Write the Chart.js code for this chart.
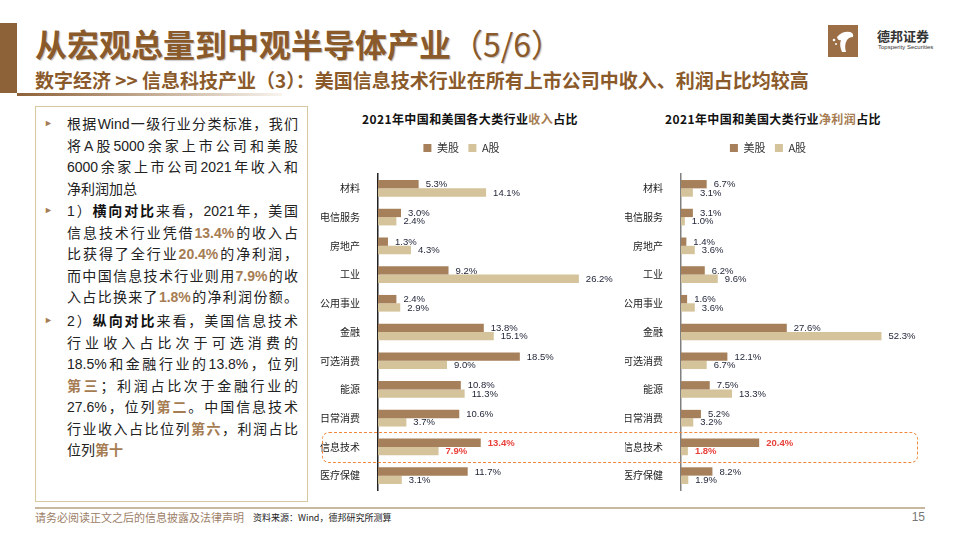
<!DOCTYPE html>
<html>
<head>
<meta charset="utf-8">
<script src="https://cdn.jsdelivr.net/npm/chart.js@4.4.0/dist/chart.umd.min.js"></script>
<style>
  body { margin: 0; width: 960px; height: 540px; background: #fff; position: relative; overflow: hidden;
         font-family: "Liberation Sans", "Noto Sans CJK SC", sans-serif; }
  .abs { position: absolute; }
  #accent { left: 0; top: 23px; width: 17px; height: 70px; background: #8E6239; }
  #title { left: 35px; top: 21px; font-size: 32px; font-weight: bold; color: #8B5A2B; line-height: 44px;
           font-family: "Noto Sans CJK SC", sans-serif; text-shadow: 1px 1px 1px rgba(0,0,0,0.25); white-space: nowrap; }
  #title span { font-weight: normal; }
  #subtitle { left: 35px; top: 66px; font-size: 19px; font-weight: bold; color: #8B5A2B; line-height: 27px;
              font-family: "Noto Sans CJK SC", sans-serif; white-space: nowrap; }
  #rule { left: 17px; top: 93px; width: 265px; height: 3px; background: linear-gradient(to right, #8E6239, rgba(220,200,170,0.2)); }
  #logoBox { left: 828px; top: 25px; width: 30px; height: 32px; }
  #logoCn { left: 877px; top: 26px; font-size: 13px; font-weight: bold; color: #333; font-family: "Noto Sans CJK SC", sans-serif; }
  #logoEn { left: 878px; top: 44px; font-size: 6px; color: #333; font-family: "Liberation Sans", sans-serif; white-space: nowrap; }
  #box { left: 35px; top: 106px; width: 271px; height: 394px; border: 1.5px solid #D8C8A2; }
  .para { position: absolute; left: 67px; width: 231px; font-size: 14px; line-height: 21.5px; color: #222;
          font-family: "Liberation Sans", "Noto Sans CJK SC", sans-serif; }
  .para div { text-align: justify; text-align-last: justify; white-space: nowrap; }
  .para div.last { text-align-last: left; }
  .bullet { position: absolute; left: 44px; font-size: 9px; color: #A67C52; }
  .hl { color: #A67C52; font-weight: bold; }
  .bk { font-weight: bold; color: #111; }
  .ctitle { font-size: 12px; font-weight: bold; color: #111; white-space: nowrap; transform: translateX(-50%);
            font-family: "Noto Sans CJK SC", sans-serif; letter-spacing: 0.4px; }
  .ctitle span { color: #A67C52; }
  canvas { position: absolute; }
  #hlBox { left: 322px; top: 432px; width: 594px; height: 29px; border: 1.5px dashed #F0883E; border-radius: 7px; }
  #footLine { left: 35px; top: 507px; width: 890px; height: 2px; background: #C8B8A0; }
  #footL { left: 35px; top: 509px; font-size: 11px; color: #9C8068; line-height: 16px; font-family: "Noto Sans CJK SC", sans-serif; }
  #footSrc { left: 253px; top: 510px; font-size: 9px; color: #222; line-height: 16px; font-family: "Noto Sans CJK SC", sans-serif; }
  #page { left: 905px; top: 509px; width: 20px; text-align: right; font-size: 12px; color: #777; line-height: 16px; }
</style>
</head>
<body>
<div id="accent" class="abs"></div>
<div id="title" class="abs">从宏观总量到中观半导体产业<span>（5/6）</span></div>
<div id="subtitle" class="abs">数字经济 &gt;&gt; 信息科技产业（3）：美国信息技术行业在所有上市公司中收入、利润占比均较高</div>
<div id="rule" class="abs"></div>

<svg id="logoBox" class="abs" viewBox="0 0 30 32">
  <rect x="0" y="0" width="30" height="32" fill="#9B6E45"/>
  <path d="M9 12 Q14 6 22 7 Q26 8 25 12 Q21 12 19 15 Q16 20 18 27 L14 27 Q11 20 13 15 Q10 16 9 12 Z" fill="#fff"/>
  <circle cx="6" cy="15" r="1.3" fill="#fff"/>
  <circle cx="8" cy="19" r="1" fill="#fff"/>
</svg>
<div id="logoCn" class="abs">德邦证券</div>
<div id="logoEn" class="abs">Topsperity Securities</div>

<div id="box" class="abs"></div>
<div class="bullet" style="top:118px">&#9658;</div>
<div class="para" style="top:114px">
  <div>根据Wind一级行业分类标准，我们</div>
  <div>将A股5000余家上市公司和美股</div>
  <div>6000余家上市公司2021年收入和</div>
  <div class="last">净利润加总</div>
</div>
<div class="bullet" style="top:205px">&#9658;</div>
<div class="para" style="top:201px">
  <div>1）<span class="bk">横向对比</span>来看，2021年，美国</div>
  <div>信息技术行业凭借<span class="hl">13.4%</span>的收入占</div>
  <div>比获得了全行业<span class="hl">20.4%</span>的净利润，</div>
  <div>而中国信息技术行业则用<span class="hl">7.9%</span>的收</div>
  <div>入占比换来了<span class="hl">1.8%</span>的净利润份额。</div>
</div>
<div class="bullet" style="top:315px">&#9658;</div>
<div class="para" style="top:311px">
  <div>2）<span class="bk">纵向对比</span>来看，美国信息技术</div>
  <div>行业收入占比次于可选消费的</div>
  <div>18.5%和金融行业的13.8%，位列</div>
  <div><span class="hl">第三</span>；利润占比次于金融行业的</div>
  <div>27.6%，位列<span class="hl">第二</span>。中国信息技术</div>
  <div>行业收入占比位列<span class="hl">第六</span>，利润占比</div>
  <div class="last">位列<span class="hl">第十</span></div>
</div>

<div class="abs ctitle" style="left:470px; top:110px">2021年中国和美国各大类行业<span>收入</span>占比</div>
<div class="abs ctitle" style="left:773px; top:110px">2021年中国和美国大类行业<span>净利润</span>占比</div>

<canvas id="revenueChart" width="324" height="373" style="left:315px; top:133px"></canvas>
<canvas id="profitChart" width="320" height="373" style="left:625px; top:133px"></canvas>
<div id="hlBox" class="abs"></div>

<div id="footLine" class="abs"></div>
<div id="footL" class="abs">请务必阅读正文之后的信息披露及法律声明</div>
<div id="footSrc" class="abs">资料来源：Wind，德邦研究所测算</div>
<div id="page" class="abs">15</div>

<script>
// data (%)
const categories = ['材料', '电信服务', '房地产', '工业', '公用事业', '金融', '可选消费', '能源', '日常消费', '信息技术', '医疗保健'];
const seriesNames = ['美股', 'A股'];
const revenueUS = [5.3, 3.0, 1.3, 9.2, 2.4, 13.8, 18.5, 10.8, 10.6, 13.4, 11.7];
const revenueCN = [14.1, 2.4, 4.3, 26.2, 2.9, 15.1, 9.0, 11.3, 3.7, 7.9, 3.1];
const profitUS = [6.7, 3.1, 1.4, 6.2, 1.6, 27.6, 12.1, 7.5, 5.2, 20.4, 8.2];
const profitCN = [3.1, 1.0, 3.6, 9.6, 3.6, 52.3, 6.7, 13.3, 3.2, 1.8, 1.9];
const highlight = '信息技术';

Chart.defaults.font.family = '"Noto Sans CJK SC", sans-serif';

// value labels at the end of each bar
const barLabels = {
    id: 'barLabels',
    afterDatasetsDraw: function(chart) {
        var ctx = chart.ctx;
        ctx.save();
        ctx.textAlign = 'left';
        ctx.textBaseline = 'middle';
        chart.data.datasets.forEach(function(ds, i) {
            chart.getDatasetMeta(i).data.forEach(function(bar, j) {
                var hot = chart.data.labels[j] === highlight;
                ctx.fillStyle = hot ? '#E8413A' : '#1E2235';
                ctx.font = (hot ? 'bold ' : '') + '9.5px "Liberation Sans", Arial, sans-serif';
                ctx.fillText(ds.data[j].toFixed(1) + '%', bar.x + 7, bar.y + 0.5);
            });
        });
        ctx.restore();
    }
};

// a bit more room between legend and bars
const legendGap = {
    id: 'legendGap',
    beforeLayout: function(chart) {
        var lg = chart.legend;
        if (lg && !lg._gapPatched) {
            var fit = lg.fit;
            lg.fit = function() {
                fit.call(this);
                this.height += 10.5;
            };
            lg._gapPatched = true;
        }
    }
};

function makeChart(id, usData, cnData, xMax, axisWidth, axisColor, padRight) {
    var el = document.getElementById(id);
    return new Chart(el, {
        type: 'bar',
        data: {
            labels: categories,
            datasets: [{
                label: seriesNames[0],
                backgroundColor: '#A6805A',
                data: usData
            }, {
                label: seriesNames[1],
                backgroundColor: '#D5C39B',
                data: cnData
            }]
        },
        options: {
            indexAxis: 'y',
            responsive: false,
            animation: false,
            devicePixelRatio: 1,
            layout: { autoPadding: false, padding: { left: 0, right: padRight, top: 0, bottom: 10 } },
            datasets: { bar: { categoryPercentage: 0.58, barPercentage: 1.0 } },
            plugins: {
                legend: {
                    display: true,
                    labels: {
                        boxWidth: 8,
                        boxHeight: 8,
                        padding: 9.5,
                        color: '#333',
                        font: { size: 11 }
                    }
                },
                tooltip: { enabled: false }
            },
            scales: {
                x: { display: false, min: 0, max: xMax },
                y: {
                    grid: { display: false },
                    border: { display: true, color: axisColor, width: 1.5 },
                    ticks: { color: '#222', padding: 10, font: { size: 10 } },
                    afterFit: function(scale) { scale.width = axisWidth; }
                }
            }
        },
        plugins: [barLabels, legendGap]
    });
}

document.addEventListener("DOMContentLoaded", function() {
    makeChart('revenueChart', revenueUS, revenueCN, 30, 63, '#222', 31);
    makeChart('profitChart', profitUS, profitCN, 60, 56, '#808080', 34);
});
</script>
</body>
</html>
